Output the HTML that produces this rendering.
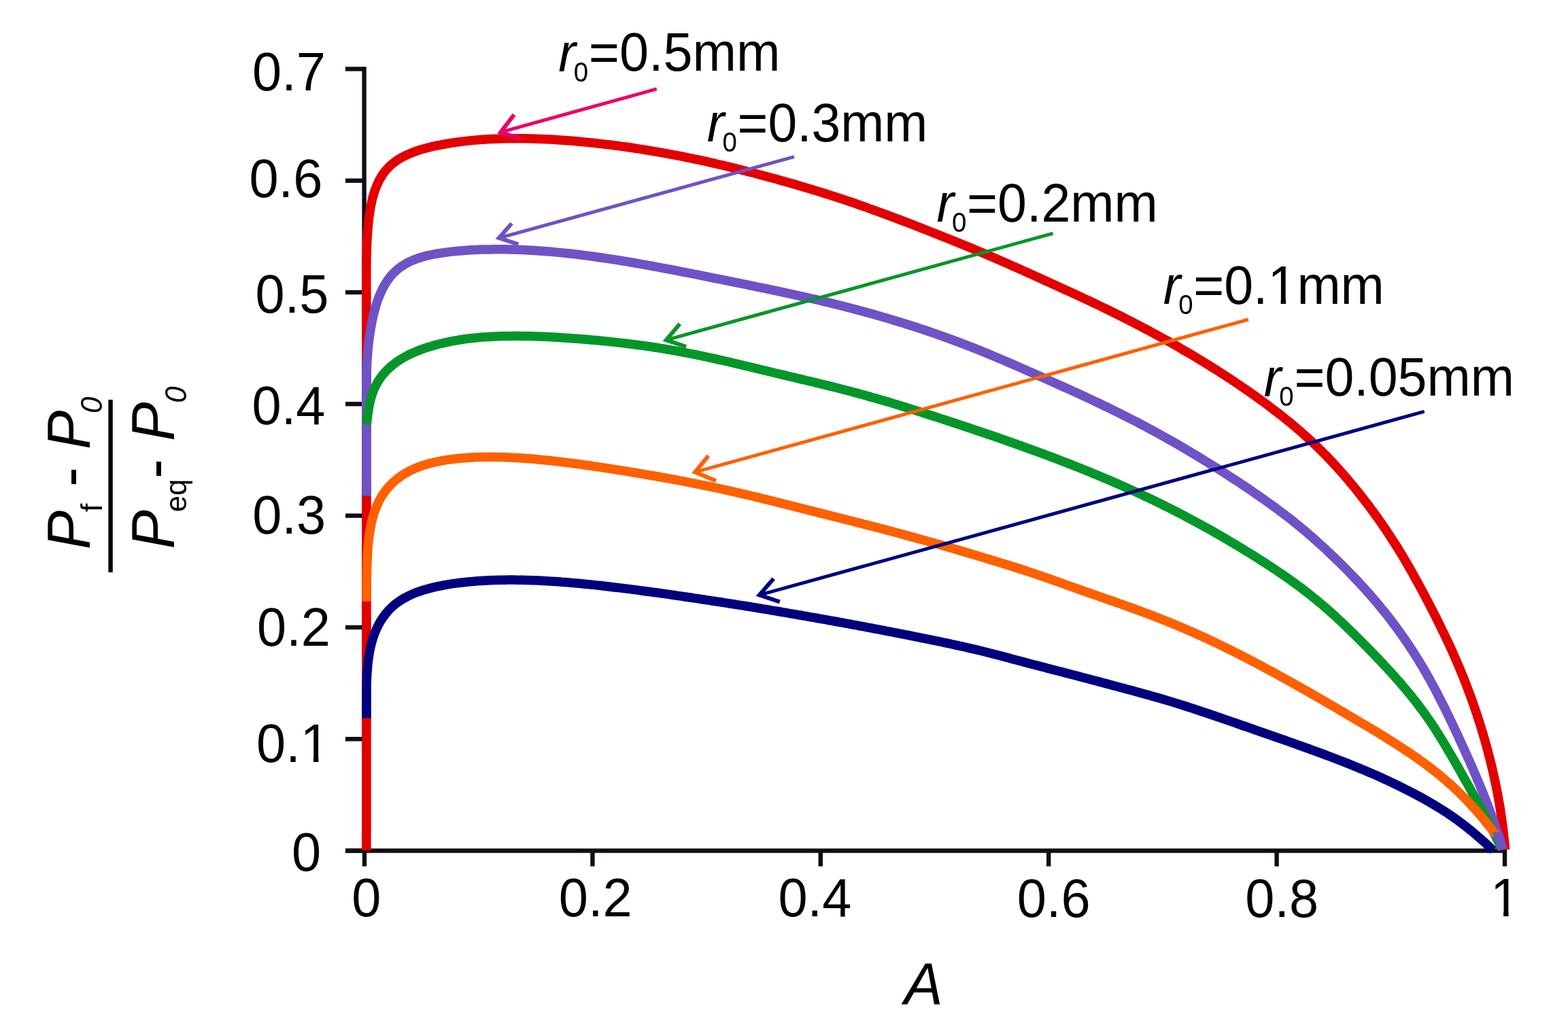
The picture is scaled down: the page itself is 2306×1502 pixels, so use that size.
<!DOCTYPE html>
<html><head><meta charset="utf-8"><title>chart</title>
<style>html,body{margin:0;padding:0;background:#fff;overflow:hidden}svg{display:block}</style>
</head><body>
<svg xmlns="http://www.w3.org/2000/svg" width="2306" height="1502" viewBox="0 0 2306 1502">
<rect width="2306" height="1502" fill="#fff"/>
<g stroke="#110d14" stroke-width="6.4" fill="none">
<path d="M535.6,98.3 V1254"/>
<path d="M508,1251.5 H2216"/>
<path d="M508,1251.50 H535"/>
<path d="M508,1087.21 H535"/>
<path d="M508,922.92 H535"/>
<path d="M508,758.63 H535"/>
<path d="M508,594.34 H535"/>
<path d="M508,430.05 H535"/>
<path d="M508,265.76 H535"/>
<path d="M508,101.47 H535"/>
<path d="M536.0,1251 V1274.5"/>
<path d="M871.4,1251 V1274.5"/>
<path d="M1206.8,1251 V1274.5"/>
<path d="M1542.2,1251 V1274.5"/>
<path d="M1877.6,1251 V1274.5"/>
<path d="M2213.0,1251 V1274.5"/>
</g>
<g fill="none" stroke-width="13.5" stroke-linecap="butt" stroke-linejoin="round">
<path d="M539.0,1251.0 L539.0,1246.7 538.9,1242.4 538.9,1238.0 538.9,1233.7 538.9,1229.3 538.9,1224.9 539.0,1220.5 539.0,1216.1 539.0,1211.6 539.0,1207.1 539.0,1202.6 539.0,1198.0 539.0,1193.4 539.0,1188.8 539.0,1184.2 539.0,1179.5 539.0,1174.8 539.0,1170.1 539.0,1165.3 539.0,1160.5 539.0,1155.7 539.0,1150.8 539.0,1145.9 539.0,1141.0 539.0,1136.1 539.0,1131.1 539.0,1126.1 539.0,1121.0 539.0,1115.9 539.0,1110.8 539.0,1105.6 539.0,1100.4 539.0,1095.2 539.0,1089.9 539.0,1084.6 539.0,1079.2 539.0,1073.8 539.0,1068.4 539.0,1062.9 539.0,1057.4 539.0,1051.8 539.0,1046.2 539.0,1040.6 539.0,1034.9 539.0,1029.1 539.0,1023.3 539.0,1017.5 539.0,1011.6 539.0,1005.7 539.0,999.7 539.0,993.6 539.0,987.5 539.0,981.4 539.0,975.2 539.0,969.0 539.0,962.7 539.0,956.3 539.0,949.9 539.0,943.4 539.0,936.9 539.0,930.3 539.0,923.6 539.0,916.9 539.0,910.1 539.0,903.3 539.0,896.3 539.0,889.4 539.0,882.3 539.0,875.2 539.0,868.0 539.0,860.7 539.0,853.4 539.0,846.0 539.0,838.5 539.0,830.9 539.0,823.3 539.0,815.5 539.0,807.7 539.0,799.8 539.0,791.8 539.0,783.7 539.0,775.6 539.0,767.3 539.0,759.0 539.0,750.5 539.0,742.0 539.0,733.4 539.0,724.6 539.0,715.8 539.0,706.8 539.0,697.8 539.0,688.6 539.0,679.3 539.0,669.9 539.0,660.4 539.0,650.8 539.0,641.0 539.0,631.1 539.0,621.1 539.0,611.0 539.0,600.7 539.0,590.3 539.0,579.7 539.0,569.0 539.0,558.2 539.0,547.2 539.0,536.0 539.0,524.7 539.0,513.2 539.0,501.6 539.0,489.7 538.9,477.7 538.9,465.5 538.8,453.1 538.8,440.5 538.8,427.7 538.8,414.7 538.8,401.7 538.9,388.6 539.1,375.5 539.5,362.4 540.1,349.6 541.0,337.0 542.1,324.9 543.6,313.2 545.5,302.1 547.8,291.7 550.6,282.1 553.9,273.3 557.6,265.3 561.8,258.2 566.3,251.8 571.3,246.2 576.6,241.3 582.2,237.0 588.1,233.2 594.2,229.8 600.4,226.9 606.8,224.3 613.3,221.9 619.9,219.8 626.6,218.0 633.4,216.2 640.2,214.7 647.1,213.3 654.0,212.0 660.9,210.8 667.9,209.7 674.8,208.8 681.9,207.9 688.9,207.1 695.9,206.4 703.0,205.8 710.0,205.3 717.1,204.8 724.2,204.5 731.3,204.2 738.4,204.0 745.5,203.8 752.6,203.7 759.8,203.7 766.9,203.7 774.0,203.8 781.1,204.0 788.2,204.2 795.3,204.5 802.4,204.8 809.5,205.1 816.6,205.6 823.6,206.0 830.7,206.5 837.8,207.0 844.8,207.6 851.8,208.2 858.9,208.9 865.9,209.6 872.9,210.3 879.9,211.1 886.8,211.9 893.8,212.7 900.7,213.5 907.7,214.4 914.6,215.4 921.5,216.3 928.4,217.3 935.2,218.4 942.1,219.4 948.9,220.5 955.8,221.6 962.6,222.8 969.4,223.9 976.2,225.1 982.9,226.4 989.7,227.6 996.4,228.9 1003.1,230.2 1009.8,231.6 1016.5,232.9 1023.2,234.3 1029.8,235.7 1036.5,237.2 1043.1,238.7 1049.7,240.1 1056.3,241.7 1062.8,243.2 1069.4,244.8 1075.9,246.3 1082.4,247.9 1088.9,249.6 1095.4,251.2 1101.8,252.9 1108.3,254.5 1114.7,256.2 1121.1,257.9 1127.5,259.7 1133.8,261.4 1140.2,263.1 1146.5,264.9 1152.8,266.7 1159.1,268.5 1165.4,270.3 1171.6,272.1 1177.9,273.9 1184.1,275.7 1190.3,277.6 1196.5,279.5 1202.6,281.4 1208.8,283.3 1214.9,285.2 1221.0,287.1 1227.1,289.1 1233.2,291.1 1239.3,293.1 1245.3,295.1 1251.3,297.2 1257.4,299.2 1263.3,301.3 1269.3,303.4 1275.3,305.5 1281.2,307.7 1287.1,309.8 1293.0,312.0 1298.9,314.1 1304.8,316.3 1310.6,318.5 1316.5,320.7 1322.3,322.9 1328.1,325.1 1333.9,327.3 1339.7,329.6 1345.4,331.8 1351.1,334.0 1356.9,336.3 1362.6,338.5 1368.3,340.7 1373.9,343.0 1379.6,345.2 1385.2,347.5 1390.9,349.7 1396.5,352.0 1402.1,354.2 1407.7,356.5 1413.2,358.8 1418.8,361.0 1424.3,363.3 1429.9,365.6 1435.4,367.9 1440.9,370.2 1446.4,372.5 1451.8,374.9 1457.3,377.2 1462.7,379.6 1468.2,381.9 1473.6,384.3 1479.0,386.7 1484.4,389.1 1489.7,391.5 1495.1,393.8 1500.4,396.2 1505.8,398.6 1511.1,401.0 1516.4,403.4 1521.7,405.8 1527.0,408.2 1532.3,410.6 1537.5,413.0 1542.8,415.4 1548.1,417.8 1553.3,420.2 1558.5,422.6 1563.7,425.0 1569.0,427.4 1574.2,429.7 1579.4,432.1 1584.5,434.5 1589.7,436.9 1594.9,439.3 1600.0,441.7 1605.2,444.2 1610.3,446.6 1615.4,449.0 1620.5,451.5 1625.6,453.9 1630.7,456.4 1635.8,458.9 1640.8,461.4 1645.9,463.9 1650.9,466.4 1655.9,469.0 1660.9,471.5 1665.9,474.1 1670.9,476.7 1675.9,479.3 1680.9,481.9 1685.8,484.5 1690.8,487.1 1695.7,489.8 1700.6,492.5 1705.5,495.1 1710.4,497.8 1715.3,500.5 1720.1,503.2 1725.0,506.0 1729.8,508.7 1734.6,511.5 1739.4,514.3 1744.2,517.1 1749.0,519.9 1753.8,522.7 1758.6,525.5 1763.3,528.4 1768.0,531.3 1772.8,534.2 1777.5,537.1 1782.1,540.0 1786.8,542.9 1791.5,545.9 1796.1,548.9 1800.8,551.9 1805.4,554.9 1810.0,557.9 1814.5,560.9 1819.1,564.0 1823.7,567.1 1828.2,570.2 1832.7,573.3 1837.2,576.4 1841.7,579.6 1846.2,582.8 1850.6,586.0 1855.1,589.2 1859.5,592.4 1863.9,595.7 1868.2,599.0 1872.6,602.3 1876.9,605.6 1881.3,608.9 1885.5,612.3 1889.8,615.7 1894.1,619.2 1898.3,622.6 1902.5,626.1 1906.6,629.6 1910.8,633.2 1914.9,636.8 1919.0,640.4 1923.0,644.0 1927.0,647.7 1931.0,651.4 1935.0,655.2 1938.9,659.0 1942.8,662.8 1946.6,666.7 1950.5,670.5 1954.3,674.5 1958.0,678.4 1961.7,682.4 1965.4,686.4 1969.1,690.5 1972.7,694.5 1976.3,698.6 1979.8,702.8 1983.4,706.9 1986.9,711.1 1990.3,715.3 1993.8,719.5 1997.2,723.7 2000.6,728.0 2003.9,732.3 2007.2,736.6 2010.5,740.9 2013.8,745.2 2017.0,749.6 2020.2,753.9 2023.4,758.3 2026.5,762.7 2029.7,767.1 2032.7,771.6 2035.8,776.0 2038.8,780.5 2041.8,785.0 2044.8,789.5 2047.7,794.0 2050.6,798.5 2053.5,803.0 2056.4,807.6 2059.2,812.2 2062.0,816.8 2064.7,821.4 2067.4,826.0 2070.1,830.6 2072.8,835.3 2075.4,839.9 2078.0,844.6 2080.6,849.2 2083.2,853.9 2085.8,858.5 2088.3,863.2 2090.8,867.9 2093.3,872.5 2095.8,877.2 2098.2,881.9 2100.7,886.5 2103.1,891.2 2105.5,895.9 2107.9,900.5 2110.3,905.2 2112.6,909.8 2114.9,914.5 2117.3,919.2 2119.5,923.8 2121.8,928.5 2124.1,933.2 2126.3,937.8 2128.5,942.5 2130.7,947.2 2132.9,951.9 2135.0,956.6 2137.1,961.3 2139.2,966.0 2141.3,970.7 2143.3,975.4 2145.3,980.1 2147.3,984.8 2149.2,989.6 2151.2,994.3 2153.1,999.0 2154.9,1003.8 2156.8,1008.5 2158.6,1013.3 2160.4,1018.1 2162.2,1022.8 2163.9,1027.6 2165.6,1032.4 2167.3,1037.2 2168.9,1042.0 2170.6,1046.8 2172.2,1051.6 2173.7,1056.4 2175.3,1061.2 2176.8,1066.0 2178.3,1070.8 2179.7,1075.6 2181.2,1080.4 2182.6,1085.2 2184.0,1090.1 2185.3,1094.9 2186.7,1099.7 2188.0,1104.5 2189.2,1109.4 2190.5,1114.2 2191.7,1119.0 2192.9,1123.9 2194.1,1128.7 2195.2,1133.6 2196.3,1138.4 2197.4,1143.2 2198.4,1148.1 2199.5,1152.9 2200.5,1157.8 2201.4,1162.6 2202.4,1167.5 2203.3,1172.3 2204.1,1177.2 2205.0,1182.0 2205.8,1186.9 2206.6,1191.7 2207.3,1196.6 2208.0,1201.5 2208.7,1206.3 2209.4,1211.2 2210.0,1216.0 2210.6,1220.9 2211.2,1225.8 2211.7,1230.6 2212.2,1235.5 2212.7,1240.3 2213.2,1245.2 2213.6,1250.0" stroke="#e20000"/>
<path d="M539.1,729.1 L539.0,721.7 538.9,714.4 538.9,706.9 538.9,699.5 538.9,691.9 538.9,684.4 538.9,676.7 538.9,668.9 538.9,661.1 538.9,653.2 538.9,645.2 538.9,637.0 538.9,628.8 538.8,620.5 538.8,612.1 538.8,603.6 538.7,595.0 538.7,586.4 538.7,577.6 538.8,568.9 538.9,560.2 539.1,551.4 539.4,542.7 539.7,534.2 540.3,525.7 540.9,517.3 541.7,509.1 542.6,501.0 543.7,493.1 544.9,485.3 546.2,477.6 547.7,470.2 549.3,462.9 551.1,455.9 553.1,449.0 555.2,442.4 557.6,436.1 560.1,430.1 562.8,424.4 565.8,419.0 568.9,414.0 572.3,409.3 575.8,404.9 579.6,400.9 583.5,397.3 587.6,393.9 591.9,390.9 596.3,388.2 600.9,385.7 605.6,383.5 610.4,381.6 615.3,379.8 620.3,378.2 625.3,376.8 630.4,375.6 635.6,374.5 640.9,373.5 646.1,372.6 651.4,371.8 656.7,371.1 662.1,370.4 667.4,369.9 672.8,369.3 678.2,368.9 683.6,368.5 689.0,368.1 694.4,367.8 699.8,367.5 705.2,367.3 710.7,367.1 716.1,367.0 721.5,366.9 726.9,366.8 732.3,366.8 737.8,366.8 743.2,366.8 748.6,366.9 754.0,367.0 759.4,367.2 764.8,367.4 770.3,367.6 775.7,367.9 781.1,368.2 786.5,368.5 791.9,368.9 797.3,369.3 802.6,369.7 808.0,370.1 813.4,370.6 818.8,371.1 824.1,371.6 829.5,372.1 834.8,372.7 840.1,373.3 845.4,373.9 850.8,374.5 856.1,375.2 861.3,375.9 866.6,376.6 871.9,377.3 877.2,378.0 882.4,378.7 887.6,379.5 892.9,380.3 898.1,381.1 903.3,381.9 908.5,382.7 913.7,383.5 918.8,384.4 924.0,385.2 929.1,386.1 934.3,387.0 939.4,387.9 944.5,388.8 949.6,389.7 954.6,390.6 959.7,391.5 964.8,392.5 969.8,393.4 974.8,394.3 979.9,395.3 984.9,396.2 989.8,397.2 994.8,398.1 999.8,399.1 1004.7,400.1 1009.7,401.0 1014.6,402.0 1019.5,403.0 1024.4,403.9 1029.3,404.9 1034.1,405.9 1039.0,406.9 1043.9,407.8 1048.7,408.8 1053.5,409.8 1058.3,410.7 1063.1,411.7 1067.9,412.7 1072.7,413.6 1077.4,414.6 1082.2,415.6 1086.9,416.5 1091.7,417.5 1096.4,418.4 1101.1,419.4 1105.8,420.4 1110.5,421.3 1115.1,422.3 1119.8,423.3 1124.5,424.2 1129.1,425.2 1133.7,426.2 1138.4,427.2 1143.0,428.1 1147.6,429.1 1152.2,430.1 1156.8,431.1 1161.4,432.1 1165.9,433.1 1170.5,434.1 1175.0,435.1 1179.6,436.1 1184.1,437.1 1188.6,438.1 1193.2,439.2 1197.7,440.2 1202.2,441.2 1206.7,442.3 1211.2,443.4 1215.6,444.4 1220.1,445.5 1224.6,446.6 1229.0,447.7 1233.5,448.8 1237.9,449.9 1242.3,451.0 1246.7,452.2 1251.1,453.3 1255.6,454.5 1259.9,455.6 1264.3,456.8 1268.7,458.0 1273.1,459.2 1277.4,460.4 1281.8,461.6 1286.1,462.8 1290.5,464.1 1294.8,465.3 1299.1,466.6 1303.5,467.8 1307.8,469.1 1312.1,470.4 1316.3,471.7 1320.6,473.0 1324.9,474.3 1329.2,475.6 1333.4,477.0 1337.7,478.3 1341.9,479.7 1346.1,481.0 1350.4,482.4 1354.6,483.8 1358.8,485.2 1363.0,486.6 1367.2,488.0 1371.4,489.5 1375.5,490.9 1379.7,492.4 1383.9,493.9 1388.0,495.3 1392.2,496.8 1396.3,498.3 1400.4,499.8 1404.5,501.4 1408.6,502.9 1412.7,504.5 1416.8,506.0 1420.9,507.6 1425.0,509.2 1429.0,510.8 1433.1,512.4 1437.2,514.0 1441.2,515.6 1445.2,517.2 1449.2,518.9 1453.3,520.5 1457.3,522.2 1461.3,523.9 1465.2,525.5 1469.2,527.2 1473.2,528.9 1477.2,530.6 1481.1,532.3 1485.1,534.0 1489.0,535.7 1492.9,537.4 1496.9,539.2 1500.8,540.9 1504.7,542.6 1508.6,544.3 1512.5,546.1 1516.4,547.8 1520.3,549.5 1524.2,551.2 1528.1,553.0 1531.9,554.7 1535.8,556.4 1539.7,558.2 1543.5,559.9 1547.4,561.6 1551.2,563.3 1555.1,565.1 1558.9,566.8 1562.7,568.5 1566.6,570.2 1570.4,572.0 1574.2,573.7 1578.0,575.5 1581.8,577.2 1585.6,578.9 1589.4,580.7 1593.2,582.4 1597.0,584.2 1600.8,586.0 1604.5,587.7 1608.3,589.5 1612.1,591.3 1615.8,593.0 1619.6,594.8 1623.3,596.6 1627.0,598.4 1630.8,600.2 1634.5,602.1 1638.2,603.9 1641.9,605.7 1645.6,607.6 1649.3,609.4 1653.0,611.3 1656.7,613.1 1660.4,615.0 1664.1,616.9 1667.7,618.7 1671.4,620.6 1675.0,622.5 1678.7,624.5 1682.3,626.4 1686.0,628.3 1689.6,630.3 1693.2,632.2 1696.8,634.2 1700.4,636.1 1704.0,638.1 1707.6,640.1 1711.2,642.1 1714.8,644.1 1718.3,646.1 1721.9,648.1 1725.5,650.2 1729.0,652.2 1732.5,654.2 1736.1,656.3 1739.6,658.4 1743.1,660.4 1746.6,662.5 1750.2,664.6 1753.7,666.7 1757.2,668.8 1760.7,670.9 1764.1,673.0 1767.6,675.1 1771.1,677.2 1774.6,679.4 1778.0,681.5 1781.5,683.7 1784.9,685.8 1788.4,688.0 1791.8,690.1 1795.2,692.3 1798.7,694.5 1802.1,696.7 1805.5,698.9 1808.9,701.1 1812.3,703.3 1815.7,705.5 1819.1,707.7 1822.5,709.9 1825.9,712.2 1829.2,714.4 1832.6,716.7 1836.0,718.9 1839.3,721.2 1842.6,723.5 1846.0,725.8 1849.3,728.1 1852.6,730.4 1855.9,732.7 1859.2,735.0 1862.5,737.4 1865.8,739.7 1869.1,742.1 1872.4,744.5 1875.6,746.8 1878.9,749.2 1882.1,751.7 1885.3,754.1 1888.5,756.5 1891.7,759.0 1894.9,761.4 1898.1,763.9 1901.3,766.4 1904.4,768.9 1907.6,771.5 1910.7,774.0 1913.8,776.6 1916.9,779.2 1920.0,781.7 1923.1,784.4 1926.1,787.0 1929.1,789.6 1932.2,792.3 1935.2,795.0 1938.2,797.7 1941.2,800.4 1944.1,803.1 1947.1,805.8 1950.1,808.5 1953.0,811.3 1955.9,814.0 1958.8,816.8 1961.7,819.6 1964.6,822.4 1967.5,825.2 1970.3,828.0 1973.2,830.8 1976.0,833.7 1978.9,836.5 1981.7,839.4 1984.5,842.2 1987.3,845.1 1990.1,848.0 1992.8,850.9 1995.6,853.8 1998.3,856.7 2001.0,859.7 2003.7,862.6 2006.4,865.6 2009.1,868.5 2011.8,871.5 2014.4,874.5 2017.1,877.5 2019.7,880.6 2022.3,883.6 2024.9,886.6 2027.4,889.7 2030.0,892.8 2032.5,895.9 2035.0,899.0 2037.5,902.1 2040.0,905.2 2042.5,908.4 2044.9,911.5 2047.3,914.7 2049.7,917.9 2052.1,921.1 2054.5,924.3 2056.8,927.5 2059.1,930.8 2061.5,934.0 2063.7,937.3 2066.0,940.5 2068.3,943.8 2070.5,947.1 2072.7,950.4 2074.9,953.8 2077.1,957.1 2079.3,960.4 2081.4,963.8 2083.5,967.2 2085.6,970.5 2087.7,973.9 2089.7,977.3 2091.8,980.7 2093.8,984.2 2095.8,987.6 2097.8,991.0 2099.7,994.5 2101.7,997.9 2103.6,1001.4 2105.5,1004.9 2107.4,1008.4 2109.3,1011.8 2111.2,1015.3 2113.0,1018.8 2114.8,1022.3 2116.6,1025.9 2118.4,1029.4 2120.2,1032.9 2122.0,1036.4 2123.8,1039.9 2125.5,1043.5 2127.2,1047.0 2129.0,1050.5 2130.7,1054.1 2132.4,1057.6 2134.1,1061.1 2135.8,1064.7 2137.4,1068.2 2139.1,1071.8 2140.8,1075.3 2142.4,1078.8 2144.1,1082.4 2145.7,1085.9 2147.3,1089.4 2149.0,1093.0 2150.6,1096.5 2152.2,1100.0 2153.8,1103.6 2155.4,1107.1 2157.0,1110.6 2158.6,1114.2 2160.2,1117.7 2161.7,1121.2 2163.3,1124.7 2164.8,1128.3 2166.4,1131.8 2167.9,1135.3 2169.4,1138.9 2170.9,1142.4 2172.4,1146.0 2173.9,1149.5 2175.4,1153.0 2176.9,1156.6 2178.3,1160.1 2179.8,1163.7 2181.2,1167.2 2182.6,1170.8 2184.0,1174.4 2185.4,1177.9 2186.8,1181.5 2188.2,1185.1 2189.5,1188.6 2190.9,1192.2 2192.2,1195.8 2193.5,1199.4 2194.8,1203.0 2196.0,1206.6 2197.3,1210.2 2198.5,1213.8 2199.8,1217.4 2201.0,1221.0 2202.2,1224.6 2203.3,1228.2 2204.5,1231.8 2205.6,1235.5 2206.7,1239.1 2207.8,1242.7 2208.9,1246.4 2210.0,1250.0" stroke="#6f52c6"/>
<path d="M539.3,624.5 L540.0,617.5 540.8,610.6 541.8,603.9 542.9,597.3 544.2,591.0 545.8,585.0 547.6,579.3 549.6,574.0 551.8,568.9 554.3,564.2 556.9,559.7 559.7,555.5 562.7,551.6 565.9,547.9 569.2,544.4 572.6,541.1 576.1,538.1 579.8,535.2 583.5,532.4 587.4,529.8 591.3,527.4 595.3,525.1 599.4,522.9 603.5,520.9 607.7,518.9 612.0,517.1 616.3,515.4 620.7,513.7 625.1,512.2 629.5,510.7 634.0,509.4 638.5,508.1 643.0,506.8 647.6,505.7 652.2,504.6 656.8,503.6 661.4,502.6 666.1,501.7 670.8,500.8 675.5,500.0 680.2,499.3 684.9,498.6 689.6,498.0 694.4,497.5 699.2,497.0 704.0,496.5 708.7,496.1 713.6,495.7 718.4,495.4 723.2,495.2 728.0,494.9 732.8,494.7 737.7,494.6 742.5,494.5 747.3,494.4 752.2,494.4 757.0,494.3 761.8,494.3 766.7,494.4 771.5,494.4 776.3,494.5 781.1,494.6 785.9,494.8 790.7,494.9 795.5,495.1 800.3,495.3 805.1,495.5 809.9,495.8 814.7,496.0 819.5,496.3 824.2,496.6 829.0,496.9 833.7,497.2 838.4,497.5 843.2,497.9 847.9,498.2 852.6,498.6 857.3,499.0 862.0,499.3 866.6,499.7 871.3,500.2 876.0,500.6 880.6,501.0 885.3,501.5 889.9,501.9 894.5,502.4 899.1,502.9 903.7,503.4 908.3,503.9 912.9,504.4 917.5,504.9 922.0,505.5 926.6,506.0 931.2,506.6 935.7,507.2 940.2,507.8 944.8,508.4 949.3,509.0 953.8,509.7 958.3,510.3 962.8,511.0 967.2,511.7 971.7,512.4 976.2,513.1 980.6,513.9 985.1,514.6 989.5,515.4 994.0,516.2 998.4,517.0 1002.8,517.8 1007.2,518.6 1011.6,519.5 1016.0,520.3 1020.4,521.2 1024.7,522.1 1029.1,523.0 1033.5,523.9 1037.8,524.8 1042.1,525.8 1046.4,526.7 1050.8,527.6 1055.1,528.6 1059.3,529.6 1063.6,530.5 1067.9,531.5 1072.2,532.5 1076.4,533.5 1080.6,534.5 1084.9,535.5 1089.1,536.5 1093.3,537.5 1097.5,538.5 1101.7,539.5 1105.8,540.5 1110.0,541.5 1114.2,542.5 1118.3,543.5 1122.4,544.5 1126.6,545.5 1130.7,546.5 1134.8,547.5 1138.9,548.5 1142.9,549.5 1147.0,550.4 1151.1,551.4 1155.1,552.4 1159.2,553.3 1163.2,554.3 1167.2,555.2 1171.3,556.2 1175.3,557.1 1179.3,558.1 1183.3,559.0 1187.2,560.0 1191.2,560.9 1195.2,561.8 1199.1,562.8 1203.1,563.7 1207.0,564.7 1211.0,565.7 1214.9,566.6 1218.8,567.6 1222.7,568.6 1226.6,569.5 1230.5,570.5 1234.4,571.5 1238.3,572.5 1242.2,573.5 1246.1,574.5 1249.9,575.5 1253.8,576.6 1257.7,577.6 1261.5,578.6 1265.3,579.7 1269.2,580.7 1273.0,581.8 1276.8,582.9 1280.6,583.9 1284.4,585.0 1288.2,586.1 1292.0,587.2 1295.8,588.3 1299.6,589.4 1303.3,590.5 1307.1,591.6 1310.9,592.7 1314.6,593.9 1318.4,595.0 1322.1,596.2 1325.8,597.3 1329.5,598.5 1333.3,599.6 1337.0,600.8 1340.7,601.9 1344.4,603.1 1348.1,604.3 1351.7,605.4 1355.4,606.6 1359.1,607.8 1362.8,609.0 1366.4,610.2 1370.1,611.3 1373.7,612.5 1377.4,613.7 1381.0,614.9 1384.7,616.1 1388.3,617.3 1391.9,618.4 1395.5,619.6 1399.2,620.8 1402.8,622.0 1406.4,623.2 1410.0,624.4 1413.6,625.6 1417.2,626.8 1420.7,628.0 1424.3,629.2 1427.9,630.4 1431.5,631.6 1435.1,632.8 1438.6,634.0 1442.2,635.2 1445.7,636.4 1449.3,637.6 1452.8,638.8 1456.4,640.0 1459.9,641.2 1463.5,642.4 1467.0,643.7 1470.5,644.9 1474.0,646.1 1477.6,647.3 1481.1,648.6 1484.6,649.8 1488.1,651.0 1491.6,652.3 1495.1,653.5 1498.6,654.8 1502.1,656.0 1505.6,657.3 1509.1,658.5 1512.6,659.8 1516.0,661.1 1519.5,662.3 1523.0,663.6 1526.5,664.9 1529.9,666.2 1533.4,667.4 1536.8,668.7 1540.3,670.0 1543.8,671.3 1547.2,672.6 1550.6,673.9 1554.1,675.2 1557.5,676.5 1561.0,677.9 1564.4,679.2 1567.8,680.5 1571.2,681.9 1574.7,683.2 1578.1,684.5 1581.5,685.9 1584.9,687.2 1588.3,688.6 1591.7,690.0 1595.1,691.3 1598.5,692.7 1601.9,694.1 1605.3,695.5 1608.7,696.9 1612.1,698.3 1615.5,699.7 1618.8,701.1 1622.2,702.5 1625.6,703.9 1629.0,705.4 1632.3,706.8 1635.7,708.3 1639.0,709.7 1642.4,711.2 1645.7,712.6 1649.1,714.1 1652.4,715.6 1655.8,717.1 1659.1,718.6 1662.4,720.1 1665.7,721.6 1669.1,723.1 1672.4,724.6 1675.7,726.2 1679.0,727.7 1682.3,729.3 1685.6,730.8 1688.9,732.4 1692.2,733.9 1695.5,735.5 1698.8,737.1 1702.1,738.7 1705.3,740.3 1708.6,741.9 1711.9,743.6 1715.2,745.2 1718.4,746.8 1721.7,748.5 1724.9,750.1 1728.2,751.8 1731.4,753.4 1734.6,755.1 1737.9,756.8 1741.1,758.5 1744.3,760.2 1747.6,761.9 1750.8,763.6 1754.0,765.4 1757.2,767.1 1760.4,768.8 1763.6,770.6 1766.8,772.3 1770.0,774.1 1773.2,775.9 1776.4,777.6 1779.6,779.4 1782.7,781.2 1785.9,783.0 1789.1,784.8 1792.3,786.6 1795.4,788.4 1798.6,790.3 1801.7,792.1 1804.9,793.9 1808.0,795.8 1811.2,797.7 1814.3,799.5 1817.4,801.4 1820.6,803.3 1823.7,805.2 1826.8,807.1 1829.9,809.0 1833.0,810.9 1836.2,812.8 1839.3,814.7 1842.4,816.6 1845.5,818.6 1848.6,820.5 1851.6,822.5 1854.7,824.5 1857.8,826.4 1860.9,828.4 1863.9,830.4 1867.0,832.4 1870.1,834.4 1873.1,836.4 1876.2,838.5 1879.2,840.5 1882.2,842.6 1885.3,844.6 1888.3,846.7 1891.3,848.8 1894.3,850.9 1897.3,853.0 1900.3,855.2 1903.2,857.3 1906.2,859.5 1909.1,861.6 1912.1,863.8 1915.0,866.0 1917.9,868.2 1920.8,870.5 1923.7,872.7 1926.6,875.0 1929.5,877.3 1932.3,879.6 1935.2,881.9 1938.0,884.2 1940.8,886.6 1943.6,888.9 1946.4,891.3 1949.2,893.7 1951.9,896.1 1954.7,898.5 1957.4,901.0 1960.1,903.4 1962.9,905.9 1965.6,908.4 1968.2,910.9 1970.9,913.4 1973.6,915.9 1976.3,918.4 1978.9,920.9 1981.5,923.5 1984.2,926.0 1986.8,928.6 1989.4,931.1 1992.1,933.7 1994.7,936.3 1997.3,938.8 1999.9,941.4 2002.5,944.0 2005.0,946.6 2007.6,949.2 2010.2,951.8 2012.7,954.4 2015.3,957.1 2017.9,959.7 2020.4,962.3 2022.9,965.0 2025.5,967.6 2028.0,970.3 2030.5,972.9 2033.0,975.6 2035.5,978.3 2038.0,981.0 2040.5,983.6 2043.0,986.3 2045.5,989.1 2047.9,991.8 2050.4,994.5 2052.8,997.2 2055.2,1000.0 2057.7,1002.7 2060.1,1005.5 2062.4,1008.3 2064.8,1011.1 2067.2,1013.9 2069.5,1016.7 2071.9,1019.5 2074.2,1022.3 2076.5,1025.2 2078.8,1028.1 2081.0,1030.9 2083.3,1033.8 2085.5,1036.7 2087.7,1039.7 2089.9,1042.6 2092.1,1045.5 2094.3,1048.5 2096.4,1051.5 2098.5,1054.5 2100.6,1057.5 2102.7,1060.5 2104.8,1063.5 2106.8,1066.6 2108.8,1069.6 2110.8,1072.7 2112.8,1075.8 2114.7,1078.9 2116.7,1082.0 2118.6,1085.1 2120.5,1088.2 2122.4,1091.3 2124.3,1094.5 2126.2,1097.6 2128.1,1100.8 2129.9,1103.9 2131.8,1107.1 2133.6,1110.2 2135.5,1113.4 2137.3,1116.6 2139.1,1119.7 2140.9,1122.9 2142.7,1126.1 2144.6,1129.2 2146.4,1132.4 2148.2,1135.6 2149.9,1138.8 2151.7,1141.9 2153.5,1145.1 2155.3,1148.3 2157.1,1151.5 2158.9,1154.6 2160.7,1157.8 2162.4,1161.0 2164.2,1164.2 2166.0,1167.4 2167.7,1170.5 2169.5,1173.7 2171.2,1176.9 2173.0,1180.1 2174.8,1183.3 2176.5,1186.5 2178.2,1189.7 2180.0,1192.9 2181.7,1196.1 2183.4,1199.3 2185.2,1202.5 2186.9,1205.7 2188.6,1208.9 2190.2,1212.1 2191.9,1215.4 2193.6,1218.6 2195.2,1221.8 2196.9,1225.1 2198.5,1228.3 2200.1,1231.6 2201.7,1234.9 2203.3,1238.1 2204.9,1241.4 2206.4,1244.7 2208.0,1248.0" stroke="#05962a"/>
<path d="M539.1,884.7 L539.1,878.7 539.1,872.6 539.2,866.5 539.2,860.3 539.3,854.2 539.4,848.0 539.5,841.7 539.7,835.5 539.9,829.3 540.1,823.0 540.4,816.8 540.8,810.6 541.2,804.5 541.8,798.4 542.4,792.4 543.2,786.5 544.1,780.7 545.1,775.0 546.2,769.5 547.5,764.1 548.9,758.8 550.5,753.7 552.3,748.8 554.2,744.1 556.2,739.6 558.4,735.2 560.8,731.0 563.3,727.0 566.0,723.2 568.8,719.6 571.7,716.2 574.8,712.9 577.9,709.8 581.3,706.9 584.7,704.1 588.2,701.5 591.8,699.0 595.5,696.7 599.4,694.5 603.2,692.4 607.2,690.5 611.3,688.7 615.4,687.1 619.6,685.5 623.9,684.1 628.2,682.8 632.5,681.6 637.0,680.5 641.4,679.5 645.9,678.6 650.5,677.7 655.1,676.9 659.7,676.2 664.3,675.6 668.9,675.0 673.6,674.5 678.3,674.1 683.0,673.7 687.7,673.4 692.4,673.1 697.1,672.8 701.9,672.6 706.6,672.5 711.4,672.4 716.1,672.3 720.9,672.3 725.6,672.3 730.4,672.4 735.2,672.5 739.9,672.6 744.7,672.8 749.4,673.0 754.2,673.2 758.9,673.5 763.7,673.7 768.4,674.1 773.1,674.4 777.9,674.7 782.6,675.1 787.3,675.5 792.0,676.0 796.7,676.4 801.4,676.9 806.0,677.3 810.7,677.8 815.3,678.4 820.0,678.9 824.6,679.4 829.2,680.0 833.8,680.6 838.4,681.1 842.9,681.7 847.5,682.3 852.0,682.9 856.6,683.6 861.1,684.2 865.6,684.8 870.1,685.5 874.5,686.1 879.0,686.8 883.4,687.4 887.8,688.1 892.3,688.8 896.7,689.4 901.0,690.1 905.4,690.8 909.8,691.5 914.1,692.2 918.4,692.9 922.7,693.6 927.0,694.3 931.3,695.0 935.6,695.7 939.8,696.4 944.1,697.1 948.3,697.8 952.5,698.6 956.7,699.3 960.9,700.0 965.0,700.7 969.2,701.5 973.3,702.2 977.5,703.0 981.6,703.7 985.7,704.4 989.8,705.2 993.9,706.0 998.0,706.7 1002.0,707.5 1006.1,708.2 1010.1,709.0 1014.1,709.8 1018.1,710.6 1022.1,711.4 1026.1,712.2 1030.1,713.0 1034.1,713.8 1038.0,714.6 1041.9,715.4 1045.9,716.2 1049.8,717.0 1053.7,717.9 1057.6,718.7 1061.5,719.5 1065.4,720.4 1069.3,721.2 1073.1,722.1 1077.0,723.0 1080.8,723.8 1084.6,724.7 1088.4,725.6 1092.2,726.5 1096.0,727.3 1099.8,728.2 1103.6,729.1 1107.4,730.0 1111.1,730.9 1114.9,731.8 1118.6,732.8 1122.3,733.7 1126.0,734.6 1129.7,735.5 1133.4,736.4 1137.1,737.3 1140.8,738.3 1144.5,739.2 1148.1,740.1 1151.8,741.0 1155.4,742.0 1159.0,742.9 1162.7,743.8 1166.3,744.7 1169.9,745.6 1173.5,746.5 1177.0,747.4 1180.6,748.3 1184.2,749.2 1187.7,750.1 1191.3,751.0 1194.8,751.9 1198.3,752.8 1201.9,753.7 1205.4,754.6 1208.9,755.5 1212.4,756.4 1215.9,757.2 1219.4,758.1 1222.8,759.0 1226.3,759.9 1229.8,760.8 1233.2,761.6 1236.7,762.5 1240.1,763.4 1243.6,764.2 1247.0,765.1 1250.4,766.0 1253.8,766.8 1257.2,767.7 1260.6,768.6 1264.0,769.4 1267.4,770.3 1270.8,771.2 1274.2,772.0 1277.6,772.9 1280.9,773.8 1284.3,774.6 1287.6,775.5 1291.0,776.4 1294.3,777.2 1297.7,778.1 1301.0,779.0 1304.4,779.9 1307.7,780.7 1311.0,781.6 1314.3,782.5 1317.6,783.4 1320.9,784.3 1324.2,785.2 1327.5,786.1 1330.8,787.0 1334.1,787.9 1337.4,788.8 1340.7,789.7 1343.9,790.6 1347.2,791.5 1350.5,792.4 1353.7,793.3 1357.0,794.2 1360.3,795.1 1363.5,796.0 1366.7,796.9 1370.0,797.8 1373.2,798.8 1376.5,799.7 1379.7,800.6 1382.9,801.5 1386.1,802.5 1389.4,803.4 1392.6,804.3 1395.8,805.3 1399.0,806.2 1402.2,807.1 1405.4,808.1 1408.6,809.0 1411.8,810.0 1415.0,810.9 1418.2,811.8 1421.4,812.8 1424.5,813.7 1427.7,814.7 1430.9,815.6 1434.1,816.6 1437.3,817.5 1440.4,818.5 1443.6,819.4 1446.8,820.4 1449.9,821.4 1453.1,822.3 1456.3,823.3 1459.4,824.2 1462.6,825.2 1465.7,826.2 1468.9,827.1 1472.0,828.1 1475.2,829.1 1478.3,830.0 1481.5,831.0 1484.6,832.0 1487.8,833.0 1490.9,834.0 1494.1,835.0 1497.2,836.0 1500.3,837.0 1503.5,838.0 1506.6,839.0 1509.7,840.0 1512.8,841.1 1516.0,842.1 1519.1,843.2 1522.2,844.2 1525.3,845.3 1528.4,846.3 1531.5,847.4 1534.6,848.5 1537.7,849.6 1540.8,850.6 1543.9,851.7 1547.0,852.8 1550.1,853.9 1553.2,855.0 1556.3,856.1 1559.4,857.2 1562.5,858.3 1565.6,859.5 1568.7,860.6 1571.8,861.7 1574.9,862.8 1578.0,863.9 1581.1,865.0 1584.2,866.1 1587.3,867.2 1590.4,868.3 1593.5,869.4 1596.6,870.5 1599.7,871.6 1602.8,872.7 1606.0,873.8 1609.1,874.8 1612.2,875.9 1615.3,877.0 1618.4,878.1 1621.6,879.2 1624.7,880.3 1627.8,881.4 1631.0,882.5 1634.1,883.6 1637.2,884.7 1640.4,885.8 1643.5,886.9 1646.6,888.0 1649.8,889.1 1652.9,890.2 1656.1,891.3 1659.2,892.5 1662.4,893.6 1665.5,894.7 1668.7,895.9 1671.8,897.0 1674.9,898.2 1678.1,899.3 1681.2,900.5 1684.4,901.7 1687.5,902.8 1690.7,904.0 1693.8,905.2 1697.0,906.4 1700.1,907.7 1703.3,908.9 1706.4,910.1 1709.5,911.4 1712.7,912.6 1715.8,913.9 1718.9,915.2 1722.1,916.4 1725.2,917.7 1728.3,919.0 1731.5,920.3 1734.6,921.7 1737.7,923.0 1740.9,924.3 1744.0,925.7 1747.1,927.0 1750.2,928.4 1753.4,929.8 1756.5,931.2 1759.6,932.6 1762.7,934.0 1765.8,935.4 1769.0,936.8 1772.1,938.2 1775.2,939.7 1778.3,941.1 1781.4,942.6 1784.5,944.0 1787.6,945.5 1790.7,947.0 1793.8,948.5 1796.9,950.0 1800.0,951.5 1803.2,953.1 1806.3,954.6 1809.4,956.1 1812.5,957.7 1815.6,959.2 1818.7,960.8 1821.8,962.4 1824.9,963.9 1828.0,965.5 1831.1,967.1 1834.2,968.7 1837.3,970.3 1840.4,972.0 1843.5,973.6 1846.6,975.2 1849.7,976.9 1852.8,978.5 1855.9,980.2 1859.0,981.8 1862.1,983.5 1865.2,985.2 1868.3,986.8 1871.5,988.5 1874.6,990.2 1877.7,991.9 1880.8,993.6 1883.9,995.3 1887.0,997.1 1890.2,998.8 1893.3,1000.5 1896.4,1002.3 1899.6,1004.0 1902.7,1005.8 1905.8,1007.5 1909.0,1009.3 1912.1,1011.1 1915.3,1012.9 1918.4,1014.6 1921.6,1016.4 1924.7,1018.2 1927.9,1020.0 1931.0,1021.8 1934.2,1023.7 1937.4,1025.5 1940.5,1027.3 1943.7,1029.2 1946.9,1031.0 1950.1,1032.8 1953.3,1034.7 1956.5,1036.6 1959.7,1038.4 1962.9,1040.3 1966.1,1042.2 1969.3,1044.1 1972.5,1046.0 1975.8,1047.8 1979.0,1049.8 1982.2,1051.7 1985.5,1053.6 1988.7,1055.5 1992.0,1057.4 1995.3,1059.4 1998.5,1061.3 2001.8,1063.2 2005.1,1065.2 2008.4,1067.1 2011.7,1069.1 2015.0,1071.1 2018.3,1073.1 2021.6,1075.1 2024.9,1077.1 2028.2,1079.1 2031.5,1081.1 2034.8,1083.1 2038.2,1085.2 2041.5,1087.2 2044.8,1089.3 2048.1,1091.4 2051.4,1093.5 2054.7,1095.6 2058.0,1097.7 2061.4,1099.9 2064.6,1102.1 2067.9,1104.2 2071.2,1106.4 2074.5,1108.6 2077.8,1110.9 2081.0,1113.1 2084.3,1115.4 2087.5,1117.7 2090.7,1120.0 2093.9,1122.3 2097.1,1124.7 2100.3,1127.1 2103.5,1129.5 2106.6,1131.9 2109.7,1134.3 2112.9,1136.8 2115.9,1139.3 2119.0,1141.8 2122.0,1144.4 2125.0,1147.0 2128.0,1149.6 2131.0,1152.2 2134.0,1154.8 2136.9,1157.5 2139.8,1160.2 2142.7,1162.9 2145.5,1165.6 2148.3,1168.4 2151.1,1171.2 2153.9,1174.0 2156.6,1176.8 2159.4,1179.7 2162.1,1182.6 2164.7,1185.5 2167.4,1188.4 2170.0,1191.3 2172.6,1194.3 2175.2,1197.3 2177.8,1200.3 2180.3,1203.3 2182.8,1206.3 2185.3,1209.4 2187.8,1212.4 2190.3,1215.5 2192.7,1218.6 2195.2,1221.7 2197.6,1224.9 2200.0,1228.0" stroke="#ff6000"/>
<path d="M539.1,1056.4 L539.0,1051.2 539.0,1046.0 538.9,1040.8 538.9,1035.6 538.9,1030.3 538.9,1025.0 538.9,1019.7 539.0,1014.4 539.1,1009.1 539.3,1003.8 539.5,998.5 539.7,993.2 540.1,988.0 540.5,982.7 540.9,977.6 541.5,972.4 542.2,967.4 542.9,962.4 543.8,957.4 544.8,952.6 545.9,947.9 547.1,943.3 548.5,938.8 550.0,934.4 551.6,930.1 553.4,925.9 555.3,921.9 557.3,918.0 559.4,914.2 561.7,910.6 564.1,907.1 566.7,903.7 569.3,900.4 572.1,897.3 575.0,894.4 578.1,891.6 581.2,888.9 584.5,886.4 587.9,884.0 591.4,881.8 595.0,879.7 598.7,877.7 602.5,875.8 606.3,874.1 610.3,872.4 614.3,870.9 618.4,869.5 622.5,868.1 626.7,866.9 630.9,865.7 635.2,864.6 639.5,863.6 643.8,862.7 648.2,861.8 652.6,860.9 657.0,860.2 661.4,859.4 665.9,858.7 670.3,858.1 674.8,857.5 679.3,857.0 683.7,856.5 688.2,856.0 692.7,855.6 697.2,855.2 701.7,854.8 706.2,854.5 710.8,854.2 715.3,854.0 719.8,853.8 724.3,853.6 728.8,853.4 733.3,853.3 737.8,853.2 742.3,853.2 746.8,853.1 751.3,853.1 755.8,853.1 760.2,853.2 764.7,853.2 769.2,853.3 773.6,853.4 778.1,853.5 782.5,853.7 786.9,853.8 791.4,854.0 795.8,854.2 800.2,854.5 804.5,854.7 808.9,855.0 813.3,855.2 817.6,855.5 822.0,855.8 826.3,856.2 830.6,856.5 834.9,856.8 839.2,857.2 843.5,857.6 847.7,857.9 852.0,858.3 856.2,858.7 860.4,859.2 864.6,859.6 868.8,860.0 873.0,860.4 877.1,860.9 881.3,861.3 885.4,861.8 889.5,862.3 893.6,862.7 897.7,863.2 901.8,863.7 905.8,864.2 909.9,864.6 913.9,865.1 917.9,865.6 921.9,866.1 925.9,866.6 929.8,867.1 933.8,867.6 937.7,868.1 941.6,868.7 945.5,869.2 949.4,869.7 953.3,870.2 957.1,870.7 961.0,871.3 964.8,871.8 968.6,872.3 972.4,872.8 976.2,873.4 980.0,873.9 983.8,874.4 987.5,875.0 991.3,875.5 995.0,876.1 998.7,876.6 1002.4,877.1 1006.1,877.7 1009.8,878.2 1013.4,878.8 1017.1,879.3 1020.7,879.9 1024.3,880.4 1027.9,880.9 1031.5,881.5 1035.1,882.0 1038.7,882.6 1042.3,883.1 1045.8,883.7 1049.4,884.2 1052.9,884.7 1056.4,885.3 1059.9,885.8 1063.4,886.3 1066.9,886.9 1070.4,887.4 1073.8,888.0 1077.3,888.5 1080.7,889.0 1084.2,889.6 1087.6,890.1 1091.0,890.6 1094.4,891.2 1097.8,891.7 1101.2,892.3 1104.6,892.8 1108.0,893.4 1111.3,893.9 1114.7,894.5 1118.0,895.0 1121.4,895.6 1124.7,896.1 1128.0,896.7 1131.3,897.2 1134.6,897.8 1137.9,898.3 1141.2,898.9 1144.5,899.5 1147.8,900.0 1151.0,900.6 1154.3,901.1 1157.5,901.7 1160.8,902.3 1164.0,902.8 1167.2,903.4 1170.5,903.9 1173.7,904.5 1176.9,905.0 1180.1,905.6 1183.3,906.2 1186.5,906.7 1189.7,907.3 1192.8,907.8 1196.0,908.4 1199.2,908.9 1202.3,909.5 1205.5,910.1 1208.6,910.6 1211.8,911.2 1214.9,911.7 1218.0,912.3 1221.1,912.9 1224.3,913.4 1227.4,914.0 1230.5,914.5 1233.6,915.1 1236.7,915.7 1239.8,916.2 1242.9,916.8 1245.9,917.4 1249.0,917.9 1252.1,918.5 1255.2,919.1 1258.2,919.6 1261.3,920.2 1264.4,920.8 1267.4,921.4 1270.5,921.9 1273.5,922.5 1276.5,923.1 1279.6,923.6 1282.6,924.2 1285.6,924.8 1288.7,925.4 1291.7,925.9 1294.7,926.5 1297.7,927.1 1300.7,927.7 1303.8,928.3 1306.8,928.8 1309.8,929.4 1312.8,930.0 1315.8,930.6 1318.8,931.2 1321.8,931.8 1324.8,932.3 1327.7,932.9 1330.7,933.5 1333.7,934.1 1336.7,934.7 1339.7,935.3 1342.7,935.9 1345.6,936.5 1348.6,937.1 1351.6,937.7 1354.6,938.3 1357.5,938.9 1360.5,939.5 1363.5,940.1 1366.4,940.7 1369.4,941.3 1372.3,941.9 1375.3,942.5 1378.3,943.1 1381.2,943.7 1384.2,944.3 1387.1,945.0 1390.1,945.6 1393.0,946.2 1396.0,946.8 1398.9,947.5 1401.9,948.1 1404.8,948.8 1407.8,949.4 1410.7,950.1 1413.7,950.7 1416.6,951.4 1419.6,952.0 1422.5,952.7 1425.4,953.4 1428.4,954.1 1431.3,954.7 1434.3,955.4 1437.2,956.1 1440.1,956.8 1443.1,957.5 1446.0,958.3 1448.9,959.0 1451.9,959.7 1454.8,960.5 1457.7,961.2 1460.6,962.0 1463.6,962.7 1466.5,963.5 1469.4,964.2 1472.3,965.0 1475.2,965.8 1478.2,966.6 1481.1,967.3 1484.0,968.1 1486.9,968.9 1489.9,969.7 1492.8,970.5 1495.7,971.2 1498.6,972.0 1501.6,972.8 1504.5,973.6 1507.4,974.4 1510.4,975.1 1513.3,975.9 1516.3,976.7 1519.2,977.5 1522.2,978.2 1525.1,979.0 1528.1,979.8 1531.0,980.6 1534.0,981.3 1536.9,982.1 1539.9,982.9 1542.9,983.7 1545.9,984.4 1548.8,985.2 1551.8,986.0 1554.8,986.8 1557.8,987.5 1560.8,988.3 1563.8,989.1 1566.8,989.9 1569.8,990.6 1572.8,991.4 1575.8,992.2 1578.8,993.0 1581.8,993.8 1584.8,994.6 1587.9,995.4 1590.9,996.2 1593.9,997.0 1597.0,997.8 1600.0,998.6 1603.1,999.4 1606.1,1000.2 1609.2,1001.0 1612.2,1001.8 1615.3,1002.6 1618.4,1003.4 1621.5,1004.2 1624.5,1005.1 1627.6,1005.9 1630.7,1006.7 1633.8,1007.5 1636.9,1008.4 1640.0,1009.2 1643.1,1010.0 1646.3,1010.9 1649.4,1011.7 1652.5,1012.5 1655.7,1013.4 1658.8,1014.2 1662.0,1015.1 1665.1,1015.9 1668.3,1016.8 1671.5,1017.7 1674.6,1018.5 1677.8,1019.4 1681.0,1020.3 1684.2,1021.2 1687.4,1022.1 1690.6,1022.9 1693.8,1023.9 1697.0,1024.8 1700.2,1025.7 1703.5,1026.6 1706.7,1027.5 1709.9,1028.5 1713.1,1029.4 1716.4,1030.4 1719.6,1031.4 1722.9,1032.4 1726.1,1033.4 1729.3,1034.4 1732.6,1035.4 1735.8,1036.4 1739.1,1037.4 1742.4,1038.5 1745.6,1039.5 1748.9,1040.6 1752.2,1041.6 1755.5,1042.7 1758.8,1043.8 1762.1,1044.9 1765.3,1046.0 1768.7,1047.1 1772.0,1048.2 1775.3,1049.3 1778.6,1050.4 1781.9,1051.6 1785.3,1052.7 1788.6,1053.9 1792.0,1055.0 1795.4,1056.2 1798.7,1057.3 1802.1,1058.5 1805.5,1059.7 1808.9,1060.8 1812.3,1062.0 1815.7,1063.2 1819.2,1064.4 1822.6,1065.6 1826.0,1066.8 1829.5,1068.0 1833.0,1069.2 1836.5,1070.4 1840.0,1071.6 1843.5,1072.9 1847.0,1074.1 1850.5,1075.3 1854.1,1076.6 1857.6,1077.8 1861.2,1079.0 1864.8,1080.3 1868.4,1081.5 1872.0,1082.8 1875.6,1084.1 1879.3,1085.4 1882.9,1086.6 1886.6,1087.9 1890.3,1089.2 1894.0,1090.5 1897.7,1091.8 1901.4,1093.1 1905.1,1094.5 1908.8,1095.8 1912.6,1097.1 1916.3,1098.5 1920.1,1099.8 1923.9,1101.2 1927.7,1102.6 1931.5,1104.0 1935.3,1105.4 1939.2,1106.8 1943.0,1108.2 1946.9,1109.6 1950.7,1111.1 1954.6,1112.5 1958.5,1114.0 1962.4,1115.5 1966.3,1117.0 1970.2,1118.5 1974.1,1120.0 1978.0,1121.6 1982.0,1123.1 1985.9,1124.7 1989.9,1126.3 1993.8,1127.9 1997.8,1129.5 2001.7,1131.2 2005.7,1132.8 2009.7,1134.5 2013.6,1136.2 2017.6,1137.9 2021.6,1139.6 2025.6,1141.4 2029.5,1143.2 2033.5,1145.0 2037.5,1146.8 2041.5,1148.6 2045.4,1150.5 2049.4,1152.4 2053.4,1154.3 2057.4,1156.2 2061.3,1158.2 2065.3,1160.2 2069.3,1162.2 2073.2,1164.2 2077.2,1166.2 2081.1,1168.3 2085.1,1170.4 2089.0,1172.5 2092.9,1174.7 2096.8,1176.9 2100.7,1179.1 2104.5,1181.3 2108.4,1183.6 2112.2,1185.9 2116.0,1188.2 2119.8,1190.6 2123.6,1193.0 2127.3,1195.4 2131.0,1197.9 2134.7,1200.4 2138.3,1202.9 2142.0,1205.5 2145.6,1208.1 2149.1,1210.8 2152.6,1213.4 2156.1,1216.1 2159.6,1218.9 2163.0,1221.6 2166.4,1224.4 2169.8,1227.3 2173.1,1230.2 2176.4,1233.0 2179.7,1236.0 2183.0,1238.9 2186.2,1241.9 2189.4,1244.9 2192.6,1247.9 2195.7,1251.0" stroke="#00007f"/>
</g>
<clipPath id="endclip"><rect x="2150" y="1224" width="100" height="60"/></clipPath>
<path d="M539.1,729.1 L539.0,721.7 538.9,714.4 538.9,706.9 538.9,699.5 538.9,691.9 538.9,684.4 538.9,676.7 538.9,668.9 538.9,661.1 538.9,653.2 538.9,645.2 538.9,637.0 538.9,628.8 538.8,620.5 538.8,612.1 538.8,603.6 538.7,595.0 538.7,586.4 538.7,577.6 538.8,568.9 538.9,560.2 539.1,551.4 539.4,542.7 539.7,534.2 540.3,525.7 540.9,517.3 541.7,509.1 542.6,501.0 543.7,493.1 544.9,485.3 546.2,477.6 547.7,470.2 549.3,462.9 551.1,455.9 553.1,449.0 555.2,442.4 557.6,436.1 560.1,430.1 562.8,424.4 565.8,419.0 568.9,414.0 572.3,409.3 575.8,404.9 579.6,400.9 583.5,397.3 587.6,393.9 591.9,390.9 596.3,388.2 600.9,385.7 605.6,383.5 610.4,381.6 615.3,379.8 620.3,378.2 625.3,376.8 630.4,375.6 635.6,374.5 640.9,373.5 646.1,372.6 651.4,371.8 656.7,371.1 662.1,370.4 667.4,369.9 672.8,369.3 678.2,368.9 683.6,368.5 689.0,368.1 694.4,367.8 699.8,367.5 705.2,367.3 710.7,367.1 716.1,367.0 721.5,366.9 726.9,366.8 732.3,366.8 737.8,366.8 743.2,366.8 748.6,366.9 754.0,367.0 759.4,367.2 764.8,367.4 770.3,367.6 775.7,367.9 781.1,368.2 786.5,368.5 791.9,368.9 797.3,369.3 802.6,369.7 808.0,370.1 813.4,370.6 818.8,371.1 824.1,371.6 829.5,372.1 834.8,372.7 840.1,373.3 845.4,373.9 850.8,374.5 856.1,375.2 861.3,375.9 866.6,376.6 871.9,377.3 877.2,378.0 882.4,378.7 887.6,379.5 892.9,380.3 898.1,381.1 903.3,381.9 908.5,382.7 913.7,383.5 918.8,384.4 924.0,385.2 929.1,386.1 934.3,387.0 939.4,387.9 944.5,388.8 949.6,389.7 954.6,390.6 959.7,391.5 964.8,392.5 969.8,393.4 974.8,394.3 979.9,395.3 984.9,396.2 989.8,397.2 994.8,398.1 999.8,399.1 1004.7,400.1 1009.7,401.0 1014.6,402.0 1019.5,403.0 1024.4,403.9 1029.3,404.9 1034.1,405.9 1039.0,406.9 1043.9,407.8 1048.7,408.8 1053.5,409.8 1058.3,410.7 1063.1,411.7 1067.9,412.7 1072.7,413.6 1077.4,414.6 1082.2,415.6 1086.9,416.5 1091.7,417.5 1096.4,418.4 1101.1,419.4 1105.8,420.4 1110.5,421.3 1115.1,422.3 1119.8,423.3 1124.5,424.2 1129.1,425.2 1133.7,426.2 1138.4,427.2 1143.0,428.1 1147.6,429.1 1152.2,430.1 1156.8,431.1 1161.4,432.1 1165.9,433.1 1170.5,434.1 1175.0,435.1 1179.6,436.1 1184.1,437.1 1188.6,438.1 1193.2,439.2 1197.7,440.2 1202.2,441.2 1206.7,442.3 1211.2,443.4 1215.6,444.4 1220.1,445.5 1224.6,446.6 1229.0,447.7 1233.5,448.8 1237.9,449.9 1242.3,451.0 1246.7,452.2 1251.1,453.3 1255.6,454.5 1259.9,455.6 1264.3,456.8 1268.7,458.0 1273.1,459.2 1277.4,460.4 1281.8,461.6 1286.1,462.8 1290.5,464.1 1294.8,465.3 1299.1,466.6 1303.5,467.8 1307.8,469.1 1312.1,470.4 1316.3,471.7 1320.6,473.0 1324.9,474.3 1329.2,475.6 1333.4,477.0 1337.7,478.3 1341.9,479.7 1346.1,481.0 1350.4,482.4 1354.6,483.8 1358.8,485.2 1363.0,486.6 1367.2,488.0 1371.4,489.5 1375.5,490.9 1379.7,492.4 1383.9,493.9 1388.0,495.3 1392.2,496.8 1396.3,498.3 1400.4,499.8 1404.5,501.4 1408.6,502.9 1412.7,504.5 1416.8,506.0 1420.9,507.6 1425.0,509.2 1429.0,510.8 1433.1,512.4 1437.2,514.0 1441.2,515.6 1445.2,517.2 1449.2,518.9 1453.3,520.5 1457.3,522.2 1461.3,523.9 1465.2,525.5 1469.2,527.2 1473.2,528.9 1477.2,530.6 1481.1,532.3 1485.1,534.0 1489.0,535.7 1492.9,537.4 1496.9,539.2 1500.8,540.9 1504.7,542.6 1508.6,544.3 1512.5,546.1 1516.4,547.8 1520.3,549.5 1524.2,551.2 1528.1,553.0 1531.9,554.7 1535.8,556.4 1539.7,558.2 1543.5,559.9 1547.4,561.6 1551.2,563.3 1555.1,565.1 1558.9,566.8 1562.7,568.5 1566.6,570.2 1570.4,572.0 1574.2,573.7 1578.0,575.5 1581.8,577.2 1585.6,578.9 1589.4,580.7 1593.2,582.4 1597.0,584.2 1600.8,586.0 1604.5,587.7 1608.3,589.5 1612.1,591.3 1615.8,593.0 1619.6,594.8 1623.3,596.6 1627.0,598.4 1630.8,600.2 1634.5,602.1 1638.2,603.9 1641.9,605.7 1645.6,607.6 1649.3,609.4 1653.0,611.3 1656.7,613.1 1660.4,615.0 1664.1,616.9 1667.7,618.7 1671.4,620.6 1675.0,622.5 1678.7,624.5 1682.3,626.4 1686.0,628.3 1689.6,630.3 1693.2,632.2 1696.8,634.2 1700.4,636.1 1704.0,638.1 1707.6,640.1 1711.2,642.1 1714.8,644.1 1718.3,646.1 1721.9,648.1 1725.5,650.2 1729.0,652.2 1732.5,654.2 1736.1,656.3 1739.6,658.4 1743.1,660.4 1746.6,662.5 1750.2,664.6 1753.7,666.7 1757.2,668.8 1760.7,670.9 1764.1,673.0 1767.6,675.1 1771.1,677.2 1774.6,679.4 1778.0,681.5 1781.5,683.7 1784.9,685.8 1788.4,688.0 1791.8,690.1 1795.2,692.3 1798.7,694.5 1802.1,696.7 1805.5,698.9 1808.9,701.1 1812.3,703.3 1815.7,705.5 1819.1,707.7 1822.5,709.9 1825.9,712.2 1829.2,714.4 1832.6,716.7 1836.0,718.9 1839.3,721.2 1842.6,723.5 1846.0,725.8 1849.3,728.1 1852.6,730.4 1855.9,732.7 1859.2,735.0 1862.5,737.4 1865.8,739.7 1869.1,742.1 1872.4,744.5 1875.6,746.8 1878.9,749.2 1882.1,751.7 1885.3,754.1 1888.5,756.5 1891.7,759.0 1894.9,761.4 1898.1,763.9 1901.3,766.4 1904.4,768.9 1907.6,771.5 1910.7,774.0 1913.8,776.6 1916.9,779.2 1920.0,781.7 1923.1,784.4 1926.1,787.0 1929.1,789.6 1932.2,792.3 1935.2,795.0 1938.2,797.7 1941.2,800.4 1944.1,803.1 1947.1,805.8 1950.1,808.5 1953.0,811.3 1955.9,814.0 1958.8,816.8 1961.7,819.6 1964.6,822.4 1967.5,825.2 1970.3,828.0 1973.2,830.8 1976.0,833.7 1978.9,836.5 1981.7,839.4 1984.5,842.2 1987.3,845.1 1990.1,848.0 1992.8,850.9 1995.6,853.8 1998.3,856.7 2001.0,859.7 2003.7,862.6 2006.4,865.6 2009.1,868.5 2011.8,871.5 2014.4,874.5 2017.1,877.5 2019.7,880.6 2022.3,883.6 2024.9,886.6 2027.4,889.7 2030.0,892.8 2032.5,895.9 2035.0,899.0 2037.5,902.1 2040.0,905.2 2042.5,908.4 2044.9,911.5 2047.3,914.7 2049.7,917.9 2052.1,921.1 2054.5,924.3 2056.8,927.5 2059.1,930.8 2061.5,934.0 2063.7,937.3 2066.0,940.5 2068.3,943.8 2070.5,947.1 2072.7,950.4 2074.9,953.8 2077.1,957.1 2079.3,960.4 2081.4,963.8 2083.5,967.2 2085.6,970.5 2087.7,973.9 2089.7,977.3 2091.8,980.7 2093.8,984.2 2095.8,987.6 2097.8,991.0 2099.7,994.5 2101.7,997.9 2103.6,1001.4 2105.5,1004.9 2107.4,1008.4 2109.3,1011.8 2111.2,1015.3 2113.0,1018.8 2114.8,1022.3 2116.6,1025.9 2118.4,1029.4 2120.2,1032.9 2122.0,1036.4 2123.8,1039.9 2125.5,1043.5 2127.2,1047.0 2129.0,1050.5 2130.7,1054.1 2132.4,1057.6 2134.1,1061.1 2135.8,1064.7 2137.4,1068.2 2139.1,1071.8 2140.8,1075.3 2142.4,1078.8 2144.1,1082.4 2145.7,1085.9 2147.3,1089.4 2149.0,1093.0 2150.6,1096.5 2152.2,1100.0 2153.8,1103.6 2155.4,1107.1 2157.0,1110.6 2158.6,1114.2 2160.2,1117.7 2161.7,1121.2 2163.3,1124.7 2164.8,1128.3 2166.4,1131.8 2167.9,1135.3 2169.4,1138.9 2170.9,1142.4 2172.4,1146.0 2173.9,1149.5 2175.4,1153.0 2176.9,1156.6 2178.3,1160.1 2179.8,1163.7 2181.2,1167.2 2182.6,1170.8 2184.0,1174.4 2185.4,1177.9 2186.8,1181.5 2188.2,1185.1 2189.5,1188.6 2190.9,1192.2 2192.2,1195.8 2193.5,1199.4 2194.8,1203.0 2196.0,1206.6 2197.3,1210.2 2198.5,1213.8 2199.8,1217.4 2201.0,1221.0 2202.2,1224.6 2203.3,1228.2 2204.5,1231.8 2205.6,1235.5 2206.7,1239.1 2207.8,1242.7 2208.9,1246.4 2210.0,1250.0" stroke="#6f52c6" stroke-width="13.5" fill="none" clip-path="url(#endclip)"/>
<path d="M737.7,194.2 L965.8,130.8" stroke="#eb006a" stroke-width="5.0" fill="none"/><path d="M756.1,168.6 L736.2,194.7 L765.1,204.1" stroke="#eb006a" stroke-width="6.0" fill="none" stroke-linejoin="miter" stroke-miterlimit="6"/>
<path d="M735.3,349.7 L1167.9,230.6" stroke="#6f52c6" stroke-width="5.0" fill="none"/><path d="M752.6,328.6 L733.8,350.1 L762.3,359.4" stroke="#6f52c6" stroke-width="6.0" fill="none" stroke-linejoin="miter" stroke-miterlimit="6"/>
<path d="M981.2,499.8 L1548.5,343.3" stroke="#05962a" stroke-width="5.0" fill="none"/><path d="M999.8,476.4 L979.7,500.2 L1009.1,510.0" stroke="#05962a" stroke-width="6.0" fill="none" stroke-linejoin="miter" stroke-miterlimit="6"/>
<path d="M1023.5,694.1 L1836.0,470.0" stroke="#ff6000" stroke-width="5.0" fill="none"/><path d="M1041.9,670.5 L1022.1,694.5 L1052.7,707.3" stroke="#ff6000" stroke-width="6.0" fill="none" stroke-linejoin="miter" stroke-miterlimit="6"/>
<path d="M1118.3,874.9 L2094.7,605.3" stroke="#00007f" stroke-width="5.0" fill="none"/><path d="M1137.7,851.3 L1116.8,875.3 L1146.8,885.3" stroke="#00007f" stroke-width="6.0" fill="none" stroke-linejoin="miter" stroke-miterlimit="6"/>
<g font-family="'Liberation Sans', Arial, sans-serif" fill="#000">
<text transform="translate(371.05,133.45) scale(0.9700,1)" font-size="80">0.7</text>
<text transform="translate(366.45,290.25) scale(0.9700,1)" font-size="80">0.6</text>
<text transform="translate(375.55,459.90) scale(0.9700,1)" font-size="80">0.5</text>
<text transform="translate(370.60,624.20) scale(0.9700,1)" font-size="80">0.4</text>
<text transform="translate(371.25,784.90) scale(0.9700,1)" font-size="80">0.3</text>
<text transform="translate(378.05,950.25) scale(0.9700,1)" font-size="80">0.2</text>
<text transform="translate(377.00,1121.20) scale(0.9700,1)" font-size="80">0.1</text>
<text transform="translate(428.95,1280.95) scale(0.9700,1)" font-size="80">0</text>
<text transform="translate(517.30,1347.50) scale(0.9700,1)" font-size="80">0</text>
<text transform="translate(821.85,1347.90) scale(0.9700,1)" font-size="80">0.2</text>
<text transform="translate(1144.45,1348.45) scale(0.9700,1)" font-size="80">0.4</text>
<text transform="translate(1495.70,1348.60) scale(0.9700,1)" font-size="80">0.6</text>
<text transform="translate(1831.25,1348.60) scale(0.9700,1)" font-size="80">0.8</text>
<text transform="translate(2191.90,1348.00) scale(0.9700,1)" font-size="80">1</text>
<text transform="translate(821.15,104.65) scale(0.9600,1)" font-size="80" font-style="italic">r</text>
<text transform="translate(843.70,119.50) scale(0.9600,1)" font-size="40">0</text>
<text transform="translate(865.70,104.40) scale(0.9674,1)" font-size="80">=0.5mm</text>
<text transform="translate(1039.85,208.15) scale(0.9600,1)" font-size="80" font-style="italic">r</text>
<text transform="translate(1062.40,223.00) scale(0.9600,1)" font-size="40">0</text>
<text transform="translate(1084.50,207.90) scale(0.9610,1)" font-size="80">=0.3mm</text>
<text transform="translate(1377.55,326.45) scale(0.9600,1)" font-size="80" font-style="italic">r</text>
<text transform="translate(1400.10,341.30) scale(0.9600,1)" font-size="40">0</text>
<text transform="translate(1422.10,326.20) scale(0.9638,1)" font-size="80">=0.2mm</text>
<text transform="translate(1710.65,446.85) scale(0.9600,1)" font-size="80" font-style="italic">r</text>
<text transform="translate(1733.20,461.70) scale(0.9600,1)" font-size="40">0</text>
<text transform="translate(1755.20,446.60) scale(0.9638,1)" font-size="80">=0.1mm</text>
<text transform="translate(1858.75,582.55) scale(0.9600,1)" font-size="80" font-style="italic">r</text>
<text transform="translate(1881.30,597.40) scale(0.9600,1)" font-size="40">0</text>
<text transform="translate(1903.45,582.30) scale(0.9635,1)" font-size="80">=0.05mm</text>
<text transform="translate(131.75,808.50) rotate(-90) scale(0.9700,1)" font-size="89" font-style="italic">P</text>
<text transform="translate(149.65,752.95) rotate(-90) scale(0.9700,1)" font-size="45">f</text>
<text transform="translate(132.20,715.95) rotate(-90) scale(0.9700,1)" font-size="89">-</text>
<text transform="translate(131.75,661.15) rotate(-90) scale(0.9700,1)" font-size="89" font-style="italic">P</text>
<text transform="translate(150.00,608.00) rotate(-90) scale(0.9700,1)" font-size="45" font-style="italic">0</text>
<text transform="translate(256.45,807.80) rotate(-90) scale(0.9700,1)" font-size="89" font-style="italic">P</text>
<text transform="translate(273.50,753.25) rotate(-90) scale(0.9700,1)" font-size="45">eq</text>
<text transform="translate(257.30,704.05) rotate(-90) scale(0.9700,1)" font-size="89">-</text>
<text transform="translate(256.45,649.00) rotate(-90) scale(0.9700,1)" font-size="89" font-style="italic">P</text>
<text transform="translate(273.60,592.70) rotate(-90) scale(0.9700,1)" font-size="45" font-style="italic">0</text>
<text transform="translate(1329.80,1477.70) scale(0.9700,1)" font-size="88" font-style="italic">A</text>
</g>
<rect x="446.13" y="1114.62" width="14.80" height="8.58" fill="#fff"/><rect x="468.39" y="1114.62" width="14.50" height="8.58" fill="#fff"/>
<rect x="2196.31" y="1341.42" width="14.80" height="8.58" fill="#fff"/><rect x="2218.57" y="1341.42" width="14.50" height="8.58" fill="#fff"/>
<rect x="1868.90" y="440.02" width="14.72" height="8.58" fill="#fff"/><rect x="1891.03" y="440.02" width="14.41" height="8.58" fill="#fff"/>
<path d="M162.6,588 V842" stroke="#000" stroke-width="6.4"/>
</svg>
</body></html>
